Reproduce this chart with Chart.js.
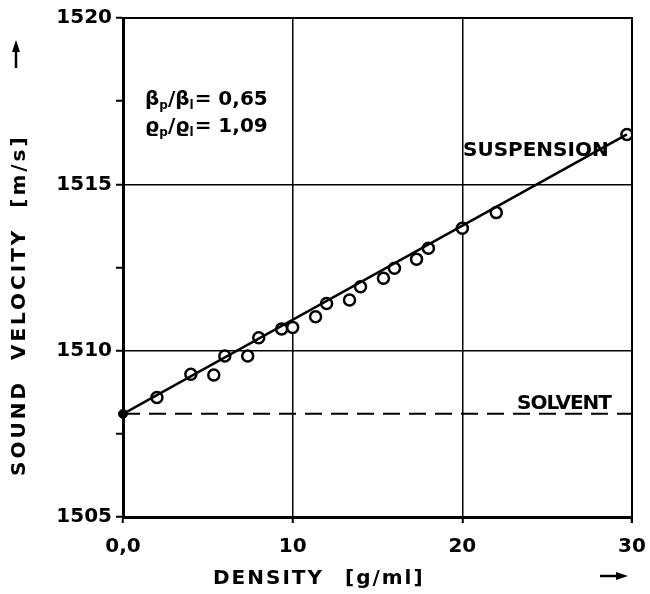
<!DOCTYPE html>
<html>
<head>
<meta charset="utf-8">
<script src="https://cdn.jsdelivr.net/npm/chart.js@4/dist/chart.umd.min.js"></script>
<style>
  html, body { margin: 0; padding: 0; background: #fff; }
  #wrap { width: 650px; height: 594px; }
</style>
</head>
<body>
<div id="wrap"><canvas id="soundChart" width="650" height="594"></canvas></div>
<script>
// measured suspension points (density g/ml, sound velocity m/s)
const densityX = [2, 4, 5.35, 6, 7.35, 8, 9.35, 10, 11.35, 12, 13.35, 14, 15.35, 16, 17.3, 18, 20, 22, 29.7];
const velocityY = [1508.59, 1509.29, 1509.27, 1509.84, 1509.84, 1510.39, 1510.65, 1510.7, 1511.02, 1511.42,
  1511.52, 1511.92, 1512.18, 1512.48, 1512.75, 1513.08, 1513.68, 1514.15, 1516.5];

// fitted suspension line
const fitX = [0, 29.7];
const fitY = [1508.1, 1516.5];

// solvent reference
const solventX = [0, 30];
const solventY = [1508.1, 1508.1];

const xTicks = [0, 10, 20, 30];
const yTicks = [1505, 1510, 1515, 1520];

const FONT = "'DejaVu Sans', sans-serif";

function pts(xs, ys) {
  return xs.map((x, i) => ({ x: x, y: ys[i] }));
}

// frame, labels and arrows drawn on top
const extras = {
  id: "extras",
  afterDraw(chart) {
    const c = chart.ctx;
    const a = chart.chartArea;
    c.save();
    c.strokeStyle = "#000";
    c.fillStyle = "#000";

    // frame
    c.lineWidth = 2;
    c.beginPath();
    c.moveTo(a.left, a.top);
    c.lineTo(a.right, a.top);
    c.lineTo(a.right, a.bottom + 6);
    c.stroke();

    c.font = "600 20px " + FONT;
    c.textBaseline = "middle";
    c.textAlign = "left";
    c.letterSpacing = "0px";
    c.fillText("SUSPENSION", 463, 151);
    c.letterSpacing = "-1px";
    c.fillText("SOLVENT", 517, 404);

    // ratio annotations
    function ratio(y, sym, val) {
      let x = 145;
      c.letterSpacing = "0px";
      c.font = "600 20px " + FONT;
      c.fillText(sym, x, y);
      x += c.measureText(sym).width;
      c.font = "600 12px " + FONT;
      c.fillText("p", x, y + 6);
      x += c.measureText("p").width;
      c.font = "600 20px " + FONT;
      c.fillText("/" + sym, x, y);
      x += c.measureText("/" + sym).width;
      c.font = "600 12px " + FONT;
      c.fillText("l", x, y + 6);
      x += c.measureText("l").width + 1;
      c.font = "600 20px " + FONT;
      c.fillText("= " + val, x, y);
    }
    ratio(100, "\u03b2", "0,65");
    ratio(127, "\u03f1", "1,09");

    // axis titles
    c.font = "600 20px " + FONT;
    c.letterSpacing = "2px";
    c.fillText("DENSITY", 213, 579);
    c.fillText("[g/ml]", 345, 579);

    c.save();
    c.translate(20, 476);
    c.rotate(-Math.PI / 2);
    c.letterSpacing = "3px";
    c.fillText("SOUND  VELOCITY  [m/s]", 0, 0);
    c.restore();
    c.letterSpacing = "0px";

    // arrows
    c.lineWidth = 2.5;
    c.beginPath();
    c.moveTo(600, 576);
    c.lineTo(618, 576);
    c.stroke();
    c.beginPath();
    c.moveTo(628, 576);
    c.lineTo(616, 572);
    c.lineTo(616, 580);
    c.closePath();
    c.fill();

    c.beginPath();
    c.moveTo(16, 68);
    c.lineTo(16, 50);
    c.stroke();
    c.beginPath();
    c.moveTo(16, 40);
    c.lineTo(12, 52);
    c.lineTo(20, 52);
    c.closePath();
    c.fill();

    c.restore();
  }
};

new Chart(document.getElementById("soundChart"), {
  type: "scatter",
  data: {
    datasets: [
      {
        label: "Solvent",
        type: "line",
        data: pts(solventX, solventY),
        borderColor: "#000",
        borderWidth: 2,
        borderDash: [17, 9],
        pointRadius: 0,
        showLine: true,
      },
      {
        label: "Fit",
        type: "line",
        data: pts(fitX, fitY),
        borderColor: "#000",
        borderWidth: 2.5,
        pointRadius: 0,
        showLine: true,
      },
      {
        label: "Solvent value",
        data: [{ x: 0, y: 1508.1 }],
        pointRadius: 4.5,
        backgroundColor: "#000",
        borderColor: "#000",
        clip: false,
      },
      {
        label: "Suspension",
        data: pts(densityX, velocityY),
        pointRadius: 5.5,
        pointBorderWidth: 2.5,
        backgroundColor: "#fff",
        borderColor: "#000",
      },
    ],
  },
  options: {
    responsive: false,
    animation: false,
    layout: { padding: { top: 18, right: 18, left: 0, bottom: 0 } },
    plugins: {
      legend: { display: false },
      tooltip: { enabled: false },
    },
    scales: {
      x: {
        type: "linear",
        min: 0,
        max: 30,
        afterFit(s) { s.height = 77; s.paddingLeft = 0; s.paddingRight = 0; },
        afterBuildTicks(s) { s.ticks = xTicks.map(v => ({ value: v })); },
        border: { color: "#000", width: 3 },
        grid: {
          color: ctx => (ctx.tick && ctx.tick.value > 0 && ctx.tick.value < 30 ? "#000" : "rgba(0,0,0,0)"),
          lineWidth: 1.5,
          tickColor: "#000",
          tickLength: 6,
          tickWidth: 2,
        },
        ticks: {
          color: "#000",
          font: { family: FONT, size: 20, weight: "600" },
          padding: 12,
          maxRotation: 0,
          callback: v => (v === 0 ? "0,0" : String(v)),
        },
      },
      y: {
        type: "linear",
        min: 1505,
        max: 1520,
        afterFit(s) { s.width = 123; s.paddingTop = 0; s.paddingBottom = 0; },
        border: { color: "#000", width: 3 },
        grid: {
          color: ctx => (ctx.tick && (ctx.tick.value === 1510 || ctx.tick.value === 1515) ? "#000" : "rgba(0,0,0,0)"),
          lineWidth: 1.5,
          tickColor: "#000",
          tickLength: 7,
          tickWidth: 2,
        },
        ticks: {
          stepSize: 2.5,
          color: "#000",
          font: { family: FONT, size: 20, weight: "600" },
          padding: 4,
          callback: v => (yTicks.includes(v) ? String(v) : ""),
        },
      },
    },
  },
  plugins: [extras],
});
</script>
</body>
</html>
